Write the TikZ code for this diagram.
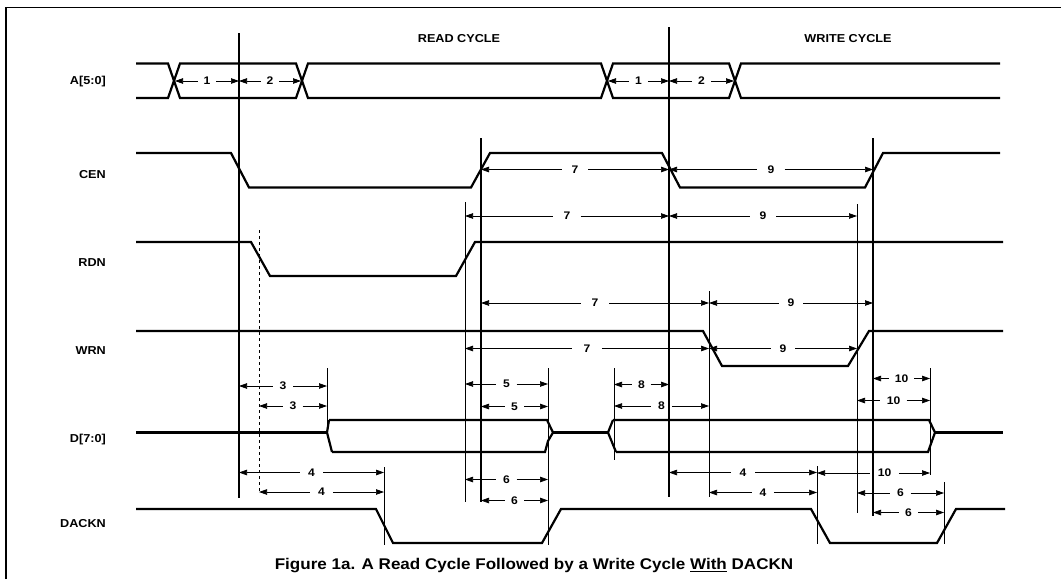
\documentclass[tikz,border=0pt]{standalone}
\usepackage{fontspec}
\setmainfont[FakeStretch=1.1]{Liberation Sans}
\usetikzlibrary{arrows.meta}

\tikzset{
	signal/.style={line width=2.2pt},
	refline/.style={line width=0.8pt},
	refbold/.style={line width=1.4pt},
	refdash/.style={line width=0.6pt, dashed},
	siglabel/.style={anchor=east, inner sep=0pt, font=\fontsize{11.5}{13}\selectfont\bfseries},
	dimlabel/.style={inner ysep=0pt, font=\fontsize{11}{12}\selectfont\bfseries}
}

\newcounter{dimno}
\newcommand{\dimh}[5][0] % [label shift], start, end, y, label
{
	\stepcounter{dimno}
	\edef\dimname{d\arabic{dimno}}
	\node[dimlabel, inner xsep={4+0.03*(#3-#2)}] (\dimname) at ({(#2+#3)/2+#1},#4) {#5};
	\draw[<-, line width=0.7pt] (#2,#4) -- (\dimname.west);
	\draw[->, line width=0.7pt] (\dimname.east) -- (#3,#4);
}

\begin{document}
\begin{tikzpicture}[x=1pt, y=-1pt, >={Triangle[length=8pt,width=5.5pt]}]
	% page 1061 x 579, y grows downwards
	\useasboundingbox (0,0) rectangle (1061,579);
	\draw[line width=1.3pt] (6,579) -- (6,7.5) -- (1061,7.5);

	\node (readcyc) at (459,39) [font=\fontsize{11.5}{13}\selectfont\bfseries] {READ CYCLE};
	\node (writecyc) at (848,39) [font=\fontsize{11.5}{13}\selectfont\bfseries] {WRITE CYCLE};

	\node[siglabel] (lA) at (106,82) {A[5:0]};
	\node[siglabel] (lCEN) at (106,175) {CEN};
	\node[siglabel] (lRDN) at (106,263) {RDN};
	\node[siglabel] (lWRN) at (106,351) {WRN};
	\node[siglabel] (lD) at (106,440) {D[7:0]};
	\node[siglabel] (lDACKN) at (106,524) {DACKN};

	% address bus
	\draw[signal] (136,63.5) -- (168,63.5) -- (180,98) -- (296,98) -- (308,63.5) -- (601,63.5) -- (613,98) -- (729,98) -- (741,63.5) -- (1000,63.5);
	\draw[signal] (136,98) -- (168,98) -- (180,63.5) -- (296,63.5) -- (308,98) -- (601,98) -- (613,63.5) -- (729,63.5) -- (741,98) -- (1000,98);

	% strobes
	\draw[signal] (136,153) -- (231,153) -- (249,187.5) -- (471,187.5) -- (490,153) -- (662,153) -- (680,187.5) -- (865,187.5) -- (883,153) -- (1000,153);
	\draw[signal] (136,242) -- (251,242) -- (270,276) -- (456,276) -- (475,242) -- (1003,242);
	\draw[signal] (136,331) -- (703,331) -- (722,366) -- (848,366) -- (869,331) -- (1003,331);

	% data bus
	\draw[signal] (136,432.5) -- (327,432.5);
	\draw[signal] (329,420) -- (327,432.5) -- (332,452);
	\draw[signal] (329,420) -- (547,420) -- (553,432.5) -- (548,441) -- (545,452) -- (332,452);
	\draw[signal] (553,432.5) -- (608,432.5);
	\draw[signal] (613,420) -- (608,432.5) -- (616,452);
	\draw[signal] (613,420) -- (929,420) -- (935,432.5) -- (928,452) -- (616,452);
	\draw[signal] (935,432.5) -- (1003,432.5);

	\draw[signal] (136,509) -- (376,509) -- (393,543) -- (542,543) -- (561,509) -- (811,509) -- (830,543) -- (937,543) -- (956,509) -- (1005,509);

	% reference lines
	\draw[refbold] (239,33) -- (239,498);
	\draw[refdash] (259,230) -- (259,493);
	\draw[refline] (327,368) -- (327,432);
	\draw[refline] (384,467) -- (384,545);
	\draw[refline] (465,202) -- (465,502);
	\draw[refbold] (481,138) -- (481,502);
	\draw[refline] (548,368) -- (548,545);
	\draw[refline] (614,368) -- (614,460);
	\draw[refbold] (669,27) -- (669,497);
	\draw[refline] (709,291) -- (709,497);
	\draw[refline] (817,466) -- (817,544);
	\draw[refline] (857,204) -- (857,513);
	\draw[refbold] (873,138) -- (873,516);
	\draw[refline] (930,368) -- (930,475);
	\draw[refline] (944,482) -- (944,544);

	\dimh{175}{239}{81}{1};
	\dimh{239}{301}{81}{2};
	\dimh{608}{669}{81}{1};
	\dimh{669}{734}{81}{2};

	\dimh{481}{669}{169.5}{7};
	\dimh{669}{873}{169.5}{9};
	\dimh{465}{669}{216}{7};
	\dimh{669}{857}{216}{9};
	\dimh{481}{709}{303}{7};
	\dimh{709}{873}{303}{9};
	\dimh{465}{709}{348.5}{7};
	\dimh{709}{857}{348.5}{9};

	\dimh{239}{327}{386}{3};
	\dimh{259}{327}{406}{3};
	\dimh{465}{548}{384}{5};
	\dimh{481}{548}{406.5}{5};
	\dimh{614}{669}{384.5}{8};
	\dimh{614}{709}{406}{8};
	\dimh{873}{930}{378.5}{10};
	\dimh{857}{930}{400.5}{10};

	\dimh{239}{384}{472.5}{4};
	\dimh{259}{384}{492}{4};
	\dimh{465}{548}{479.5}{6};
	\dimh{481}{548}{500.5}{6};
	\dimh{669}{817}{472.5}{4};
	\dimh{709}{817}{492.5}{4};
	\dimh[11]{817}{930}{473}{10};
	\dimh{857}{944}{493}{6};
	\dimh{873}{944}{512.5}{6};

	\node (caption) at (534,565.5) {\fontsize{15.5}{18}\selectfont\bfseries Figure 1a. A Read Cycle Followed by a Write Cycle \underline{With} DACKN};
\end{tikzpicture}
\end{document}
